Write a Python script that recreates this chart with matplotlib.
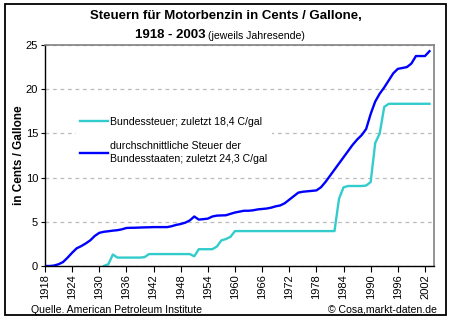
import matplotlib
matplotlib.use('Agg')
import matplotlib.pyplot as plt
from matplotlib.patches import Rectangle

plt.rcParams['font.family'] = ['Liberation Sans', 'DejaVu Sans']

# Jahresendwerte, in Cents / Gallone
years = list(range(1918, 2004))
states = [0.0, 0.0, 0.05, 0.2, 0.45, 0.95, 1.5, 2.0, 2.25, 2.55,
          2.9, 3.4, 3.75, 3.87, 3.93, 4.0, 4.05, 4.15, 4.3, 4.32,
          4.33, 4.35, 4.37, 4.38, 4.4, 4.4, 4.4, 4.4, 4.5, 4.65,
          4.75, 4.9, 5.15, 5.6, 5.25, 5.3, 5.36, 5.6, 5.7, 5.72,
          5.74, 5.9, 6.05, 6.15, 6.25, 6.25, 6.3, 6.4, 6.45, 6.5,
          6.6, 6.75, 6.85, 7.1, 7.5, 7.9, 8.3, 8.4, 8.45, 8.5,
          8.55, 8.9, 9.5, 10.2, 10.9, 11.6, 12.3, 13.0, 13.7, 14.3,
          14.8, 15.5, 17.2, 18.6, 19.5, 20.2, 21.0, 21.8, 22.3, 22.4,
          22.5, 22.9, 23.75, 23.75, 23.75, 24.3]

fed_years = list(range(1931, 2004))
federal = [0.0, 0.2, 1.3, 0.95, 0.95, 0.95, 0.95, 0.95, 0.95, 1.0,
           1.35, 1.35, 1.35, 1.35, 1.35, 1.35, 1.35, 1.35, 1.35, 1.35,
           1.1, 1.9, 1.9, 1.9, 1.9, 2.2, 2.9, 3.05, 3.3, 3.95,
           3.95, 3.95, 3.95, 3.95, 3.95, 3.95, 3.95, 3.95, 3.95, 3.95,
           3.95, 3.95, 3.95, 3.95, 3.95, 3.95, 3.95, 3.95, 3.95, 3.95,
           3.95, 3.95, 7.6, 8.9, 9.05, 9.05, 9.05, 9.05, 9.1, 9.5,
           13.9, 15.0, 18.0, 18.35, 18.35, 18.35, 18.35, 18.35, 18.35, 18.35,
           18.35, 18.35, 18.35]

xticks = list(range(1918, 2004, 6))

fig = plt.figure(figsize=(4.55, 3.23), dpi=100)
ax = fig.add_axes([45 / 455, 57 / 323, 389 / 455, 221 / 323])

ax.plot(fed_years, federal, color='#33CCCC', lw=1.7,
        label='Bundessteuer; zuletzt 18,4 C/gal')
ax.plot(years, states, color='#0000FF', lw=1.7,
        label='durchschnittliche Steuer der\nBundesstaaten; zuletzt 24,3 C/gal')

ax.set_xlim(1918, 2004)
ax.set_ylim(0, 25)
ax.set_xticks(xticks)
ax.set_xticklabels([str(y) for y in xticks], rotation=90, fontsize=8)
ax.set_yticks([0, 5, 10, 15, 20, 25])
ax.tick_params(axis='y', labelsize=8, length=3, pad=2)
ax.tick_params(axis='x', length=4, pad=2)
ax.yaxis.grid(True, color='#BBBBBB', linestyle=(0, (3, 3)), lw=0.9)
ax.set_axisbelow(True)

for s in ['top', 'right']:
    ax.spines[s].set_color('#808080')
    ax.spines[s].set_linewidth(1.2)
for s in ['left', 'bottom']:
    ax.spines[s].set_linewidth(1.0)

ax.set_ylabel('in Cents / Gallone', fontsize=8.5, fontweight='bold')
ax.yaxis.set_label_coords(-0.052, 0.5)

leg = ax.legend(loc='upper left', bbox_to_anchor=(0.066, 0.718), fontsize=7.6,
                frameon=True, facecolor='white', edgecolor='none', framealpha=1,
                handlelength=2.65, handletextpad=0.2, labelspacing=1.3,
                borderpad=0.4, fancybox=False)
for t in leg.get_texts():
    t.set_linespacing(1.45)

fig.text(0.496, 0.950, 'Steuern für Motorbenzin in Cents / Gallone,',
         ha='center', va='center', fontsize=9.5, fontweight='bold')
fig.text(0.451, 0.892, '1918 - 2003', ha='right', va='center',
         fontsize=9.5, fontweight='bold')
fig.text(0.457, 0.890, '(jeweils Jahresende)', ha='left', va='center',
         fontsize=7.6)

fig.text(31 / 455, 1 - 310 / 323, 'Quelle. American Petroleum Institute',
         ha='left', va='center', fontsize=7.6)
fig.text(437 / 455, 1 - 310 / 323, '© Cosa,markt-daten.de',
         ha='right', va='center', fontsize=7.6)

fig.patches.append(Rectangle((5 / 455, 1 - 315 / 323), 441 / 455, 311 / 323,
                             transform=fig.transFigure, fill=False,
                             edgecolor='black', lw=1.3))

fig.savefig('out.png', dpi=100)
